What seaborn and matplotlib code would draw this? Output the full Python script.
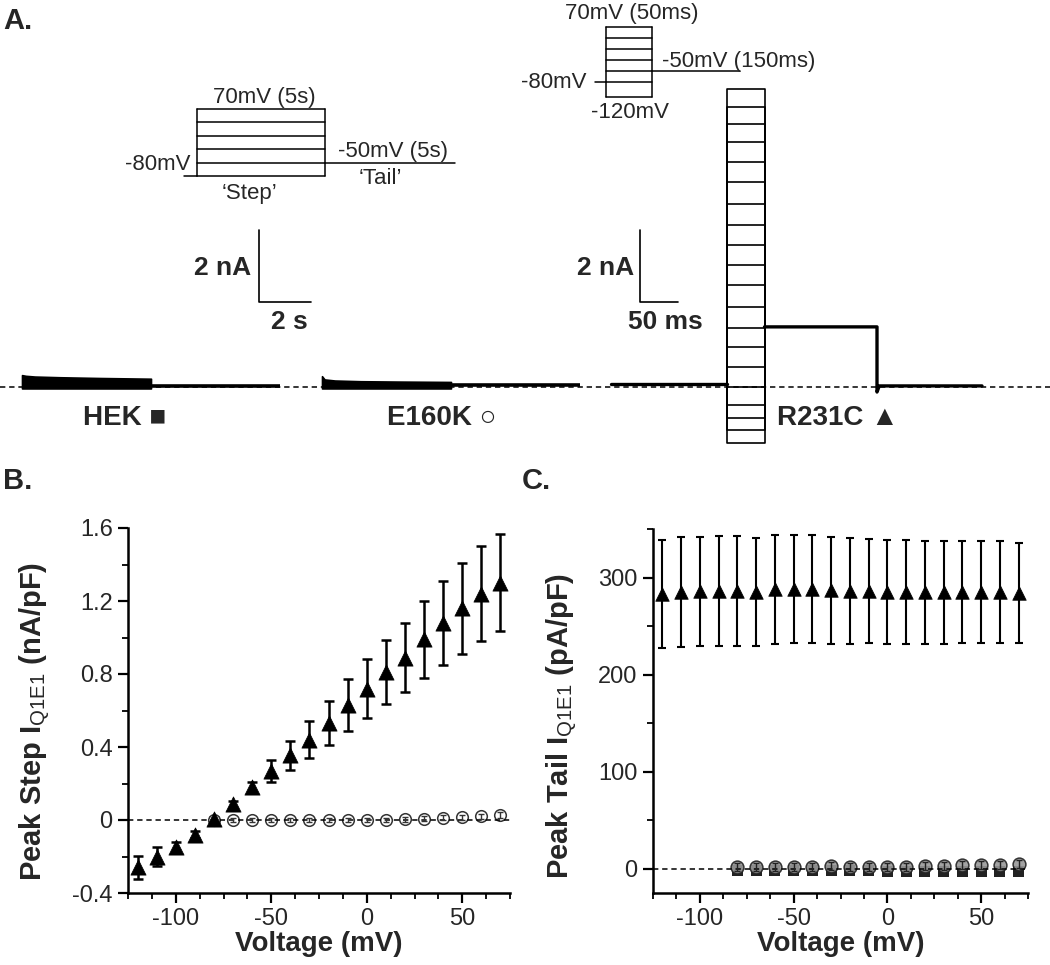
import numpy as np
import pandas as pd
import seaborn as sns
import matplotlib.pyplot as plt
from matplotlib.ticker import MultipleLocator, FuncFormatter

sns.set_theme(style='ticks')
plt.rcParams['font.family'] = ['Liberation Sans', 'DejaVu Sans']
plt.rcParams['mathtext.fontset'] = 'custom'
plt.rcParams['mathtext.rm'] = 'Liberation Sans'
plt.rcParams['axes.unicode_minus'] = False

W, H = 1050, 965

# ---------------- data ----------------
volts = [-120, -110, -100, -90, -80, -70, -60, -50, -40, -30,
         -20, -10, 0, 10, 20, 30, 40, 50, 60, 70]
volts_wt = volts[4:]   # HEK / E160K measured from -80 mV

# B: peak step current (nA/pF)
r231c_step = [-0.26, -0.20, -0.15, -0.08, 0.005, 0.085, 0.18, 0.27, 0.355, 0.44,
              0.53, 0.63, 0.72, 0.81, 0.89, 0.99, 1.08, 1.16, 1.24, 1.30]
r231c_step_sem = [0.065, 0.05, 0.03, 0.02, 0.01, 0.02, 0.03, 0.06, 0.08, 0.10,
                  0.12, 0.14, 0.16, 0.175, 0.19, 0.21, 0.23, 0.25, 0.26, 0.265]
hek_step = [0, 0, 0, 0, 0, 0, 0, 0, 0, 0, 0.002, 0.005, 0.008, 0.012, 0.016, 0.022]
e160k_step = [0, 0, 0, 0, 0, 0, 0, 0, 0, 0, 0.003, 0.008, 0.012, 0.016, 0.02, 0.028]
wt_step_sem = [0.012, 0.012, 0.012, 0.012, 0.012, 0.012, 0.012, 0.012,
               0.012, 0.012, 0.013, 0.013, 0.014, 0.014, 0.015, 0.015]

# C: peak tail current (pA/pF)
r231c_tail = [283.0, 285.2, 285.9, 286.4, 286.4, 285.4, 287.8, 288.3, 288.3, 286.8,
              286.0, 286.3, 285.1, 285.1, 284.6, 284.6, 285.1, 285.4, 285.4, 284.5]
r231c_tail_sem = [55.6, 56.8, 56.1, 56.6, 56.6, 55.6, 56.3, 55.8, 55.8, 55.3,
                  54.5, 53.8, 53.6, 53.6, 53.1, 53.1, 52.6, 52.4, 52.4, 51.5]
hek_tail = [-2, -2, -2, -2, -2, -2, -2, -2, -2.5, -2.5, -2.5, -2.5, -2.5, -2.5, -2.5, -2.5]
e160k_tail = [2, 2, 2, 2, 2, 2.5, 2, 2, 1.5, 2, 3, 3, 3.5, 4, 4, 4.5]
wt_tail_sem = [4] * 16

# A: example traces (nA)
hek_env_t = [0, 0.15, 0.5, 1.5, 3, 5]           # s
hek_env_top = [0.33, 0.31, 0.29, 0.27, 0.25, 0.23]
hek_tail_level = 0.03
e160k_env_t = [0, 0.1, 0.5, 1.5, 3, 5]
e160k_env_top = [0.30, 0.21, 0.18, 0.16, 0.15, 0.14]
e160k_tail_level = 0.05
wt_env_bottom = -0.04
r231c_sweeps = [-1.55, -1.2, -0.87, -0.5, 0.0, 0.56, 1.11, 1.65, 2.22, 2.82,
                3.38, 3.94, 4.49, 5.09, 5.69, 6.25, 6.81, 7.31, 7.78, 8.29]
r231c_hold_level = 0.08
r231c_tail_level = 1.67
r231c_post_level = 0.03
r231c_undershoot = -0.14

# protocols (mV)
prot_slow_levels = [-80, -50, -20, 10, 40, 70]
prot_fast_levels = [-120, -80, -50, -20, 10, 40, 70]

# ---------------- layout helpers ----------------
def box(left, top, right, bottom):
    return [left / W, 1 - bottom / H, (right - left) / W, (bottom - top) / H]


def txt(x, y, s, **kw):
    kw.setdefault('va', 'center')
    fig.text(x / W, 1 - y / H, s, **kw)


fig = plt.figure(figsize=(W / 100, H / 100), dpi=100)

# ---------------- panel A: traces ----------------
PX_NA = 36.0          # px per nA
BASE = 387            # baseline px row
axT = fig.add_axes(box(0, 0, W, 465))
axT.set_xlim(0, W)
axT.set_ylim(-(465 - BASE) / PX_NA, BASE / PX_NA)
axT.axis('off')
axT.axhline(0, color='black', lw=1.1, dashes=(3.5, 2.5), zorder=1)

slow_x0, slow_k = {'HEK': 22, 'E160K': 322}, 25.8      # px, px per s
fast_x0, fast_k = 727, 0.75                             # px, px per ms

for cell, env_t, env_top, tail in [('HEK', hek_env_t, hek_env_top, hek_tail_level),
                                    ('E160K', e160k_env_t, e160k_env_top, e160k_tail_level)]:
    xs = slow_x0[cell] + slow_k * np.array(env_t)
    axT.fill_between(xs, wt_env_bottom, env_top, color='black', lw=1.2, zorder=3)
    axT.plot(slow_x0[cell] + slow_k * np.array([5, 10]), [tail, tail],
             color='black', lw=2.6, solid_capstyle='butt', zorder=3)

fx = lambda t: fast_x0 + fast_k * np.asarray(t, dtype=float)
axT.plot(fx([-155, 0]), [r231c_hold_level] * 2, color='black', lw=2.4, zorder=3)
for lvl in r231c_sweeps:
    axT.plot(fx([0, 0, 50, 50]), [r231c_hold_level, lvl, lvl, r231c_tail_level],
             color='black', lw=1.2, zorder=3)
axT.plot(fx([50, 200, 200, 203, 340]),
         [r231c_tail_level, r231c_tail_level, r231c_undershoot, r231c_post_level, r231c_post_level],
         color='black', lw=2.4, zorder=3)

# scale bars
sb_bottom = (BASE - 302) / PX_NA
axT.plot([259, 259, 259 + 2 * slow_k], [sb_bottom + 2, sb_bottom, sb_bottom],
         color='black', lw=1.2)
axT.plot([640, 640, 640 + 50 * fast_k], [sb_bottom + 2, sb_bottom, sb_bottom],
         color='black', lw=1.2)

# ---------------- panel A: protocols ----------------
axP1 = fig.add_axes(box(184, 109, 455, 176))
axP1.set_xlim(-0.5, 10.1)
axP1.set_ylim(-80, 70)
axP1.axis('off')
pk = dict(color='black', lw=1.1, clip_on=False)
axP1.plot([-0.5, 0], [-80, -80], **pk)
for lvl in prot_slow_levels:
    axP1.plot([0, 5], [lvl, lvl], **pk)
axP1.plot([0, 0], [-80, 70], **pk)
axP1.plot([5, 5], [-80, 70], **pk)
axP1.plot([5, 10.1], [-50, -50], **pk)

axP2 = fig.add_axes(box(595, 27, 740, 97))
axP2.set_xlim(-12, 145)
axP2.set_ylim(-120, 70)
axP2.axis('off')
axP2.plot([-12, 0], [-80, -80], **pk)
for lvl in prot_fast_levels:
    axP2.plot([0, 50], [lvl, lvl], **pk)
axP2.plot([0, 0], [-120, 70], **pk)
axP2.plot([50, 50], [-120, 70], **pk)
axP2.plot([50, 145], [-50, -50], **pk)

fs_p = 16
txt(264, 97, '70mV (5s)', ha='center', fontsize=fs_p)
txt(190, 165, '-80mV', ha='right', fontsize=fs_p)
txt(338, 152, '-50mV (5s)', ha='left', fontsize=fs_p)
txt(380, 179, '\u2018Tail\u2019', ha='center', fontsize=fs_p)
txt(249, 194, '\u2018Step\u2019', ha='center', fontsize=fs_p)
txt(632, 13, '70mV (50ms)', ha='center', fontsize=fs_p)
txt(662, 62, '-50mV (150ms)', ha='left', fontsize=fs_p)
txt(587, 83, '-80mV', ha='right', fontsize=fs_p)
txt(630, 113, '-120mV', ha='center', fontsize=fs_p)

fs_b = 19
txt(251, 268, '2 nA', ha='right', fontsize=fs_b, fontweight='bold')
txt(289, 322, '2 s', ha='center', fontsize=fs_b, fontweight='bold')
txt(634, 268, '2 nA', ha='right', fontsize=fs_b, fontweight='bold')
txt(665, 322, '50 ms', ha='center', fontsize=fs_b, fontweight='bold')

txt(83, 418, 'HEK \u25a0', ha='left', fontsize=20, fontweight='bold')
txt(387, 418, 'E160K \u25cb', ha='left', fontsize=20, fontweight='bold')
txt(777, 418, 'R231C \u25b2', ha='left', fontsize=20, fontweight='bold')

txt(3, 21, 'A.', ha='left', fontsize=21, fontweight='bold')
txt(3, 481, 'B.', ha='left', fontsize=21, fontweight='bold')
txt(522, 481, 'C.', ha='left', fontsize=21, fontweight='bold')

# ---------------- panels B and C ----------------
axB = fig.add_axes(box(128, 528, 510, 893))
axC = fig.add_axes(box(653, 529, 1028, 893))

fmt = FuncFormatter(lambda v, p: f'{v:g}')
for ax in (axB, axC):
    sns.despine(ax=ax)
    for s in ('left', 'bottom'):
        ax.spines[s].set_linewidth(1.8)
        ax.spines[s].set_color('black')
    ax.tick_params(which='major', direction='out', length=7, width=1.6,
                   labelsize=17, color='black', pad=4)
    ax.tick_params(which='minor', direction='out', length=4.5, width=1.3, color='black')
    ax.set_xlim(-125, 75)
    ax.xaxis.set_major_locator(MultipleLocator(50))
    ax.xaxis.set_minor_locator(MultipleLocator(12.5))
    ax.xaxis.set_major_formatter(fmt)
    ax.yaxis.set_major_formatter(fmt)
    ax.axhline(0, color='black', lw=1.1, dashes=(3.5, 2.5), zorder=4)
    ax.set_facecolor('white')

axB.set_ylim(-0.4, 1.6)
axB.yaxis.set_major_locator(MultipleLocator(0.4))
axB.yaxis.set_minor_locator(MultipleLocator(0.2))

axC.set_ylim(-25, 350)
axC.yaxis.set_major_locator(MultipleLocator(100))
axC.yaxis.set_minor_locator(MultipleLocator(50))

dfB = pd.DataFrame({'V': volts, 'I': r231c_step})
dfBw = pd.DataFrame({'V': volts_wt, 'HEK': hek_step, 'E160K': e160k_step})
dfC = pd.DataFrame({'V': volts, 'I': r231c_tail})
dfCw = pd.DataFrame({'V': volts_wt, 'HEK': hek_tail, 'E160K': e160k_tail})

# B
axB.errorbar(volts, r231c_step, yerr=r231c_step_sem, fmt='none', ecolor='black',
             elinewidth=1.8, capsize=3.6, capthick=1.8, zorder=2)
sns.scatterplot(data=dfBw, x='V', y='HEK', marker='s', s=30, color='#555',
                edgecolor='none', ax=axB, zorder=2)
sns.scatterplot(data=dfBw, x='V', y='E160K', marker='o', s=70, facecolor='white',
                edgecolor='#333', linewidth=1.1, ax=axB, zorder=3)
axB.errorbar(volts_wt, e160k_step, yerr=wt_step_sem, fmt='none', ecolor='#333',
             elinewidth=1.0, capsize=2.5, capthick=1.0, zorder=4)
sns.scatterplot(data=dfB, x='V', y='I', marker='^', s=120, color='black',
                edgecolor='black', linewidth=0.5, ax=axB, zorder=5)

# C
axC.errorbar(volts, r231c_tail, yerr=r231c_tail_sem, fmt='none', ecolor='black',
             elinewidth=1.5, capsize=3.0, capthick=1.5, zorder=2)
sns.scatterplot(data=dfCw, x='V', y='HEK', marker='s', s=60, color='#222',
                edgecolor='none', ax=axC, zorder=3)
sns.scatterplot(data=dfCw, x='V', y='E160K', marker='o', s=85, facecolor='#999',
                edgecolor='#222', linewidth=1.1, alpha=0.9, ax=axC, zorder=3)
axC.errorbar(volts_wt, e160k_tail, yerr=wt_tail_sem, fmt='none', ecolor='#222',
             elinewidth=1.0, capsize=2.5, capthick=1.0, zorder=4)
sns.scatterplot(data=dfC, x='V', y='I', marker='^', s=95, color='black',
                edgecolor='black', linewidth=0.5, ax=axC, zorder=5)

for ax in (axB, axC):
    ax.set_xlabel('Voltage (mV)', fontsize=20, fontweight='bold')
    ax.xaxis.set_label_coords(0.5, -0.105)
axB.set_ylabel(r'Peak Step I$_{\mathrm{Q1E1}}$ (nA/pF)', fontsize=21, fontweight='bold')
axB.yaxis.set_label_coords(-0.196, 0.47)
axC.set_ylabel(r'Peak Tail I$_{\mathrm{Q1E1}}$ (pA/pF)', fontsize=21, fontweight='bold')
axC.yaxis.set_label_coords(-0.195, 0.46)

fig.savefig('out.png', dpi=100, facecolor='white')
